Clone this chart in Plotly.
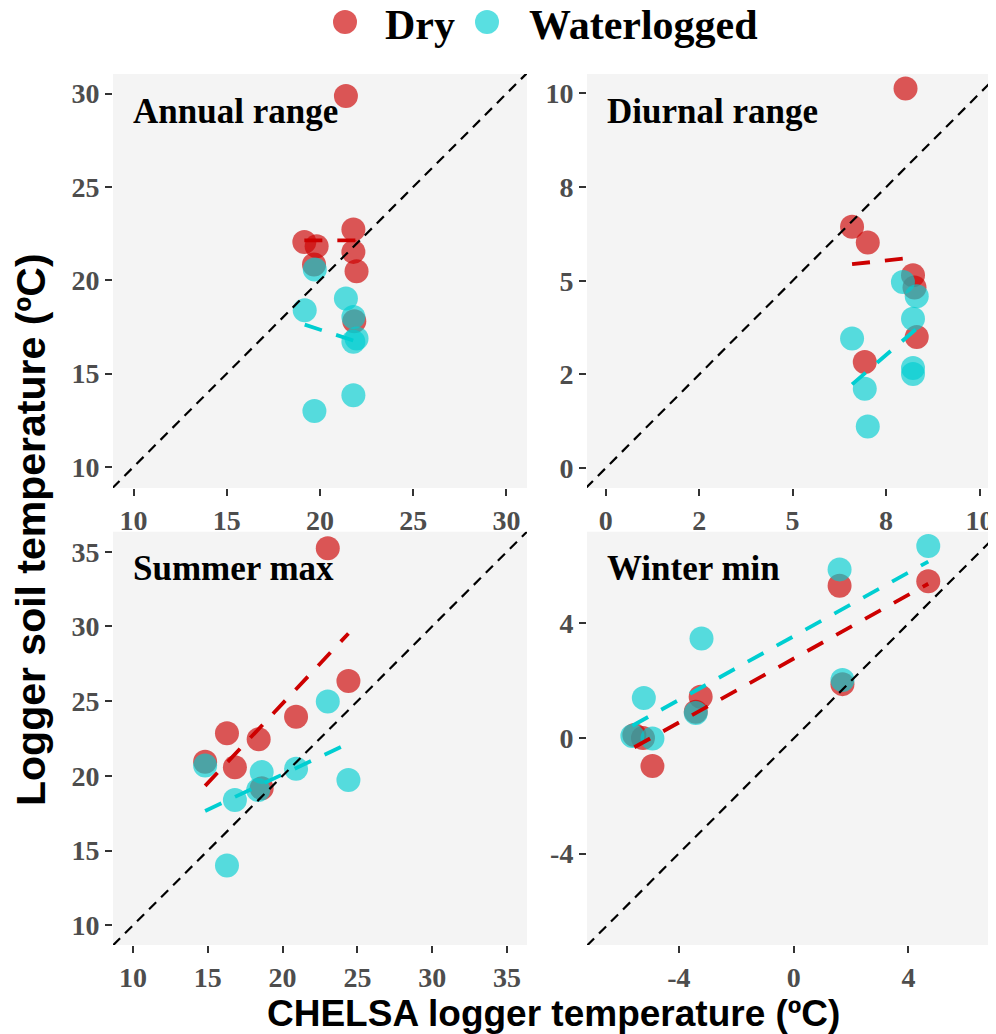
import numpy as np
import plotly.graph_objects as go

# ---------------- data ----------------
panel_names = ["Annual range", "Diurnal range", "Summer max", "Winter min"]
group_names = ["Dry", "Waterlogged"]

annual_dry_x = [21.39, 19.16, 19.82, 19.68, 21.79, 21.79, 21.96, 21.84]
annual_dry_y = [29.87, 22.05, 21.82, 20.84, 22.72, 21.52, 20.48, 17.80]
annual_wet_x = [19.72, 19.18, 21.39, 21.79, 21.96, 21.79, 21.79, 19.70]
annual_wet_y = [20.57, 18.39, 19.02, 18.03, 16.88, 16.70, 13.84, 13.00]

diurnal_dry_x = [8.02, 6.59, 7.01, 8.22, 8.26, 8.32, 6.93]
diurnal_dry_y = [10.13, 6.44, 6.02, 5.15, 4.82, 3.50, 2.83]
diurnal_wet_x = [7.95, 8.32, 8.22, 6.59, 8.22, 8.22, 6.93, 7.01]
diurnal_wet_y = [4.97, 4.59, 3.99, 3.46, 2.67, 2.51, 2.12, 1.11]

summer_dry_x = [23.02, 24.40, 20.90, 16.28, 18.40, 14.82, 16.81, 18.60]
summer_dry_y = [35.23, 26.35, 23.96, 22.85, 22.45, 20.95, 20.58, 19.17]
summer_wet_x = [23.02, 14.82, 18.60, 20.90, 24.40, 16.81, 18.37, 16.28]
summer_wet_y = [24.97, 20.69, 20.25, 20.47, 19.73, 18.39, 19.06, 14.00]

winter_dry_x = [4.69, 1.60, 1.70, -3.24, -3.41, -5.55, -5.25, -4.92]
winter_dry_y = [5.47, 5.31, 1.89, 1.45, 0.93, 0.12, 0.02, -0.96]
winter_wet_x = [4.69, 1.60, 1.70, -3.21, -3.41, -5.22, -4.92, -5.62]
winter_wet_y = [6.69, 5.88, 2.03, 3.48, 0.89, 1.41, 0.00, 0.09]

# tick values / labels per panel
annual_ticks = [10, 15, 20, 25, 30]
annual_labels = ["10", "15", "20", "25", "30"]
diurnal_ticks = [0, 2.5, 5, 7.5, 10]
diurnal_labels = ["0", "2", "5", "8", "10"]
summer_ticks = [10, 15, 20, 25, 30, 35]
summer_labels = ["10", "15", "20", "25", "30", "35"]
winter_ticks = [-4, 0, 4]
winter_labels = ["-4", "0", "4"]

# axis ranges (x, y) per panel
annual_xrange = [8.9, 31.1]
annual_yrange = [8.87, 31.05]
diurnal_xrange = [-0.5, 10.44]
diurnal_yrange = [-0.53, 10.52]
summer_xrange = [8.66, 36.34]
summer_yrange = [8.68, 36.34]
winter_xrange = [-7.2, 7.05]
winter_yrange = [-7.18, 7.19]

# ---------------- styling ----------------
DRY_COL = "#CD0000"
WET_COL = "#00CED1"
PT_ALPHA = 0.65
SERIF = "Liberation Serif"
SANS = "Liberation Sans"

OFF = 8  # page offset of the figure inside the browser page
W, H = 996 - OFF, 1034 - OFF
ML, MR, MT, MB = 113 - OFF, 0, 74 - OFF, 89
PW, PH = W - ML - MR, H - MT - MB


def px_x(p):
    """page pixel x -> paper fraction"""
    return (p - OFF - ML) / PW


def px_y(p):
    """page pixel y -> paper fraction"""
    return (H - MB - (p - OFF)) / PH


panels = [
    dict(name=panel_names[0], dry=(annual_dry_x, annual_dry_y), wet=(annual_wet_x, annual_wet_y),
         ticks=(annual_ticks, annual_labels), xr=annual_xrange, yr=annual_yrange),
    dict(name=panel_names[1], dry=(diurnal_dry_x, diurnal_dry_y), wet=(diurnal_wet_x, diurnal_wet_y),
         ticks=(diurnal_ticks, diurnal_labels), xr=diurnal_xrange, yr=diurnal_yrange),
    dict(name=panel_names[2], dry=(summer_dry_x, summer_dry_y), wet=(summer_wet_x, summer_wet_y),
         ticks=(summer_ticks, summer_labels), xr=summer_xrange, yr=summer_yrange),
    dict(name=panel_names[3], dry=(winter_dry_x, winter_dry_y), wet=(winter_wet_x, winter_wet_y),
         ticks=(winter_ticks, winter_labels), xr=winter_xrange, yr=winter_yrange),
]

x_domains = [[0, px_x(527)], [px_x(587), 1.0], [0, px_x(527)], [px_x(587), 1.0]]
y_domains = [[px_y(488), 1.0], [px_y(488), 1.0], [0, px_y(531.7)], [0, px_y(531.7)]]

fig = go.Figure()
layout_axes = {}
annotations = []

for i, p in enumerate(panels):
    sfx = "" if i == 0 else str(i + 1)
    xa, ya = "x" + sfx, "y" + sfx
    # points
    for grp, col in (("dry", DRY_COL), ("wet", WET_COL)):
        gx, gy = p[grp]
        fig.add_trace(go.Scatter(x=gx, y=gy, mode="markers", xaxis=xa, yaxis=ya,
                                 marker=dict(size=24, color=col, opacity=PT_ALPHA, line=dict(width=0)),
                                 showlegend=False, hoverinfo="skip"))
    # linear fits
    for grp, col in (("dry", DRY_COL), ("wet", WET_COL)):
        gx, gy = np.array(p[grp][0]), np.array(p[grp][1])
        slope, icpt = np.polyfit(gx, gy, 1)
        fx = np.array([gx.min(), gx.max()])
        fig.add_trace(go.Scatter(x=fx, y=slope * fx + icpt, mode="lines", xaxis=xa, yaxis=ya,
                                 line=dict(color=col, width=3.8, dash="18px,15px"),
                                 showlegend=False, hoverinfo="skip"))
    # 1:1 line
    lo = min(p["xr"][0], p["yr"][0])
    hi = max(p["xr"][1], p["yr"][1])
    fig.add_trace(go.Scatter(x=[lo, hi], y=[lo, hi], mode="lines", xaxis=xa, yaxis=ya,
                             line=dict(color="black", width=2.2, dash="10px,7px"),
                             showlegend=False, hoverinfo="skip"))

    tv, tt = p["ticks"]
    common = dict(showgrid=False, zeroline=False, showline=False, ticks="outside", ticklen=7,
                  tickwidth=1.5, tickcolor="#333333", tickvals=tv, ticktext=tt, automargin=False,
                  tickfont=dict(family=SERIF, size=28, color="#4D4D4D", weight="bold"))
    layout_axes["xaxis" + sfx] = dict(common, domain=x_domains[i], range=p["xr"], anchor=ya)
    layout_axes["yaxis" + sfx] = dict(common, domain=y_domains[i], range=p["yr"], anchor=xa)

    annotations.append(dict(text=p["name"], xref=xa + " domain", yref=ya + " domain",
                            x=0, y=1, xanchor="left", yanchor="middle", xshift=18, yshift=-37,
                            showarrow=False,
                            font=dict(family=SERIF, size=35, color="black", weight="bold")))

# axis titles
annotations.append(dict(text="CHELSA logger temperature (ºC)", xref="paper", yref="paper",
                        x=px_x(553), y=px_y(1013), xanchor="center", yanchor="middle",
                        showarrow=False, font=dict(family=SANS, size=37, color="black", weight="bold")))
annotations.append(dict(text="Logger soil temperature (ºC)", xref="paper", yref="paper",
                        x=px_x(31), y=px_y(530), xanchor="center", yanchor="middle", textangle=-90,
                        showarrow=False, font=dict(family=SANS, size=41, color="black", weight="bold")))

# legend (custom, to keep symbol size equal to the points)
shapes = []
legend_items = [(group_names[0], DRY_COL, 345, 383), (group_names[1], WET_COL, 487, 527)]
for label, col, cx, tx in legend_items:
    shapes.append(dict(type="circle", xref="paper", yref="paper", xsizemode="pixel", ysizemode="pixel",
                       xanchor=px_x(cx), yanchor=px_y(22), x0=-12, x1=12, y0=-12, y1=12,
                       fillcolor=col, opacity=PT_ALPHA, line=dict(width=0)))
    annotations.append(dict(text=label, xref="paper", yref="paper", x=px_x(tx), y=px_y(25),
                            xanchor="left", yanchor="middle", showarrow=False,
                            font=dict(family=SERIF, size=42, color="black", weight="bold")))

fig.update_layout(template="none", width=W, height=H,
                  margin=dict(l=ML, r=MR, t=MT, b=MB, autoexpand=False),
                  paper_bgcolor="white", plot_bgcolor="#F4F4F4", showlegend=False,
                  annotations=annotations, shapes=shapes, **layout_axes)

fig.write_html("out.html")
